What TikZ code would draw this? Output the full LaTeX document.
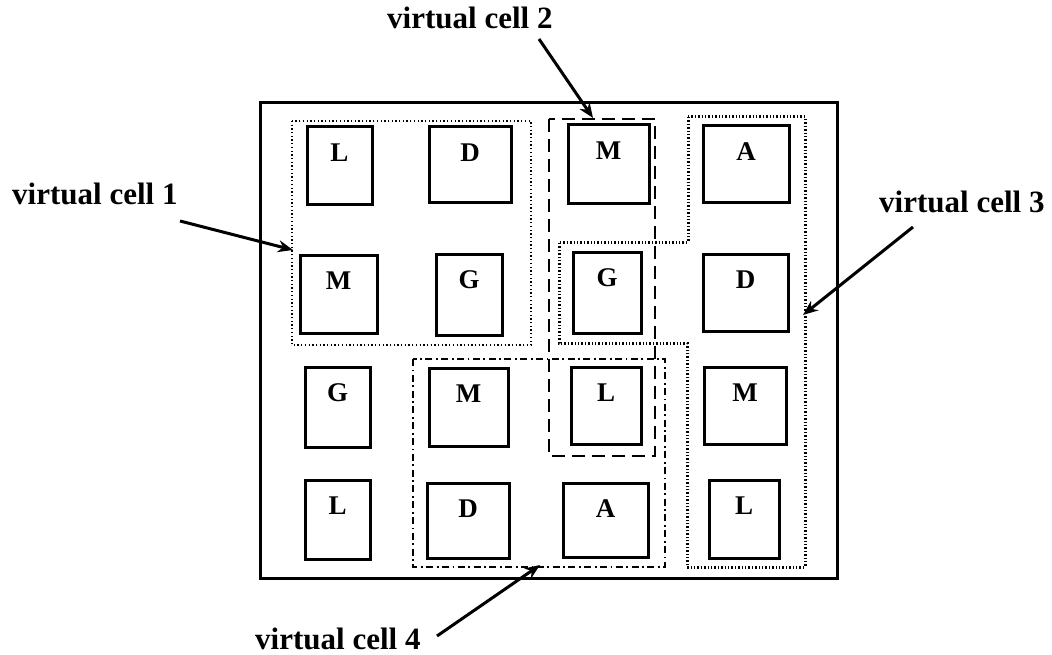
\documentclass[tikz,border=0pt]{standalone}
\usepackage{fontspec}
\setmainfont{Liberation Serif}
\usetikzlibrary{arrows.meta}
\begin{document}
\begin{tikzpicture}[x=1pt,y=-1pt,
  cellbox/.style={draw,line width=3pt,inner sep=0pt},
  letter/.style={font=\fontsize{27}{27}\selectfont\bfseries,inner sep=0pt,anchor=base},
  vtext/.style={font=\fontsize{31}{31}\selectfont\bfseries,inner sep=0pt,anchor=base west},
  outerbox/.style={draw,line width=3pt},
  vcone/.style={draw,line width=1.4pt,dash pattern=on 1.3pt off 2.4pt},
  vctwo/.style={draw,line width=2.6pt,dash pattern=on 13pt off 7pt},
  vcthree/.style={draw,line width=3pt,dash pattern=on 1.4pt off 2pt},
  vcfour/.style={draw,line width=2pt,dash pattern=on 7pt off 3.5pt on 1.8pt off 3.5pt},
  pointer/.style={line width=3pt,-{Stealth[length=15pt,width=12pt]}}
]
\useasboundingbox (0,0) rectangle (1052,655);
% outer frame
\draw[outerbox] (260,103) rectangle (837,578);
% cells
\newcommand{\mkcell}[6]{%
  \node[cellbox,minimum width=#4pt,minimum height=#5pt] (#1) at (#2,#3) {};
  \node[letter] (#1t) at ([yshift=-36pt]#1.north) {#6};}
\mkcell{c11}{339.5}{166}{65}{78}{L}
\mkcell{c12}{470}{165}{82}{76}{D}
\mkcell{c13}{608.5}{164.5}{81}{79}{M}
\mkcell{c14}{746}{164.5}{86}{77}{A}
\mkcell{c21}{338.5}{294}{77}{78}{M}
\mkcell{c22}{469}{294.5}{66}{81}{G}
\mkcell{c23}{607}{292.5}{68}{81}{G}
\mkcell{c24}{745.5}{292.5}{85}{77}{D}
\mkcell{c31}{337.5}{407}{65}{80}{G}
\mkcell{c32}{468.5}{407}{79}{78}{M}
\mkcell{c33}{606}{405.5}{70}{77}{L}
\mkcell{c34}{745}{405.5}{82}{77}{M}
\mkcell{c41}{337.5}{519.5}{65}{79}{L}
\mkcell{c42}{468}{520.5}{82}{75}{D}
\mkcell{c43}{605.5}{520}{85}{74}{A}
\mkcell{c44}{744}{519}{70}{78}{L}
% virtual cells
\draw[vcone] (292,121) rectangle (531,345);
\draw[vctwo] (549,119) rectangle (655,456);
\draw[vcthree] (688,117) -- (805,117) -- (805,567) -- (687,567) -- (687,343)
  -- (559,343) -- (559,242) -- (688,242) -- cycle;
\draw[vcfour] (413,359) rectangle (665,567);
% labels
\node[vtext] (t1) at (12,205) {virtual cell 1};
\node[vtext] (t2) at (387,29) {virtual cell 2};
\node[vtext] (t3) at (879,213) {virtual cell 3};
\node[vtext] (t4) at (255,649) {virtual cell 4};
% arrow ends
\coordinate (s1) at (180,221); \coordinate (e1) at (293,250);
\coordinate (s2) at (539,39);  \coordinate (e2) at (593,118);
\coordinate (s3) at (913,227); \coordinate (e3) at (803,315);
\coordinate (s4) at (437,636); \coordinate (e4) at (540,565);
\draw[pointer] (s1) -- (e1);
\draw[pointer] (s2) -- (e2);
\draw[pointer] (s3) -- (e3);
\draw[pointer] (s4) -- (e4);
\end{tikzpicture}
\end{document}
